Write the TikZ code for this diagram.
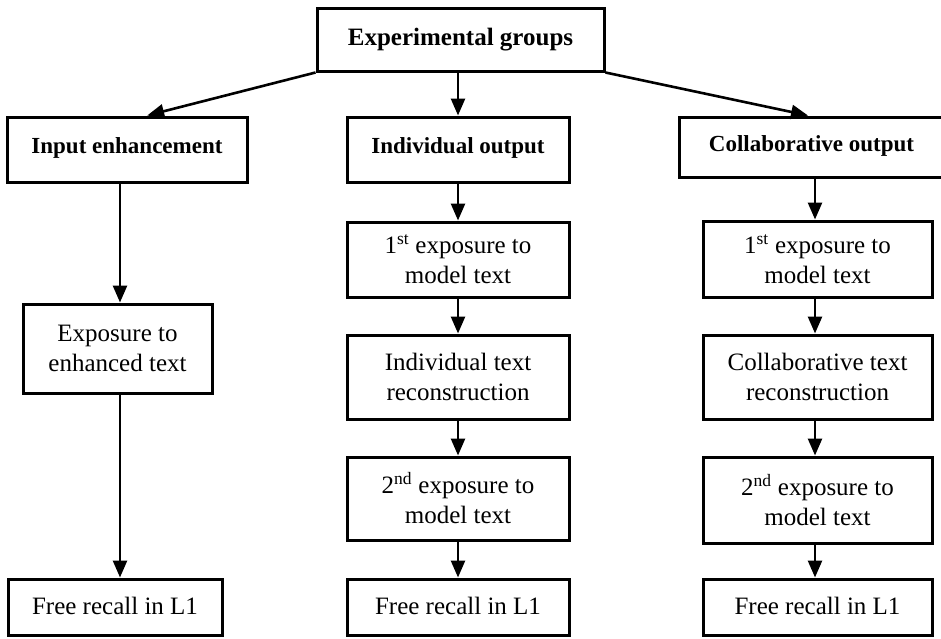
\documentclass[tikz,border=0pt]{standalone}
\usepackage{fontspec}
\setmainfont{Liberation Serif}
\usetikzlibrary{arrows.meta,calc}
\begin{document}
\begin{tikzpicture}[x=1pt,y=-1pt,
  box/.style={draw, line width=3pt, rectangle, inner sep=0pt, align=center,
    font=\fontsize{25}{30}\selectfont},
  headbox/.style={box, font=\fontsize{23}{28}\selectfont\bfseries},
  arr/.style={line width=2.6pt, -{Triangle[length=17pt,width=14pt]}}]
\useasboundingbox (0,0) rectangle (941,638);
% columns
\coordinate (cL) at (120,0);
\coordinate (cM) at (458,0);
\coordinate (cR) at (815,0);
% top
\node[box, font=\fontsize{25}{30}\selectfont\bfseries, minimum width=287pt, minimum height=63pt] (top) at (460.5,39.5) {\raisebox{3pt}{Experimental groups}};
% row 2
\node[headbox, minimum width=240pt, minimum height=65pt] (ie) at (127,149.5) {\raisebox{8pt}{Input enhancement}};
\node[headbox, minimum width=222pt, minimum height=65pt] (io) at (458,149.5) {\raisebox{8pt}{Individual output}};
\node[headbox, minimum width=265pt, minimum height=60pt] (co) at (811.5,147) {\raisebox{6pt}{Collaborative output}};
% left column
\node[box, minimum width=189pt, minimum height=89pt] (ex) at (117.5,348.5) {Exposure to\\enhanced text};
\node[box, minimum width=214pt, minimum height=56pt] (fl) at (115,607) {\raisebox{3pt}{Free recall in L1}};
% middle column
\node[box, minimum width=222pt, minimum height=75pt] (m1) at (458,259.5) {1\textsuperscript{st} exposure to\\model text};
\node[box, minimum width=222pt, minimum height=84pt] (m2) at (458,377) {Individual text\\reconstruction};
\node[box, minimum width=222pt, minimum height=83pt] (m3) at (458,498.5) {2\textsuperscript{nd} exposure to\\model text};
\node[box, minimum width=222pt, minimum height=56pt] (m4) at (458,607) {\raisebox{3pt}{Free recall in L1}};
% right column
\node[box, minimum width=229pt, minimum height=76pt] (r1) at (817.5,259) {1\textsuperscript{st} exposure to\\model text};
\node[box, minimum width=229pt, minimum height=84pt] (r2) at (817.5,377) {Collaborative text\\reconstruction};
\node[box, minimum width=229pt, minimum height=86pt] (r3) at (817.5,500) {2\textsuperscript{nd} exposure to\\model text};
\node[box, minimum width=229pt, minimum height=56pt] (r4) at (817.5,607) {\raisebox{3pt}{Free recall in L1}};
% arrows from top
\draw[arr] (top.south west) -- ($(ie.north west)!0.583!(ie.north east)$);
\draw[arr] (top.south -| cM) -- (io.north -| cM);
\draw[arr] (top.south east) -- ($(co.north west)!0.487!(co.north east)$);
% left
\draw[arr] (ie.south -| cL) -- (ex.north -| cL);
\draw[arr] (ex.south -| cL) -- (fl.north -| cL);
% middle
\draw[arr] (io.south) -- (m1.north);
\draw[arr] (m1.south) -- (m2.north);
\draw[arr] (m2.south) -- (m3.north);
\draw[arr] (m3.south) -- (m4.north);
% right
\draw[arr] (co.south -| cR) -- (r1.north -| cR);
\draw[arr] (r1.south -| cR) -- (r2.north -| cR);
\draw[arr] (r2.south -| cR) -- (r3.north -| cR);
\draw[arr] (r3.south -| cR) -- (r4.north -| cR);
\end{tikzpicture}
\end{document}
